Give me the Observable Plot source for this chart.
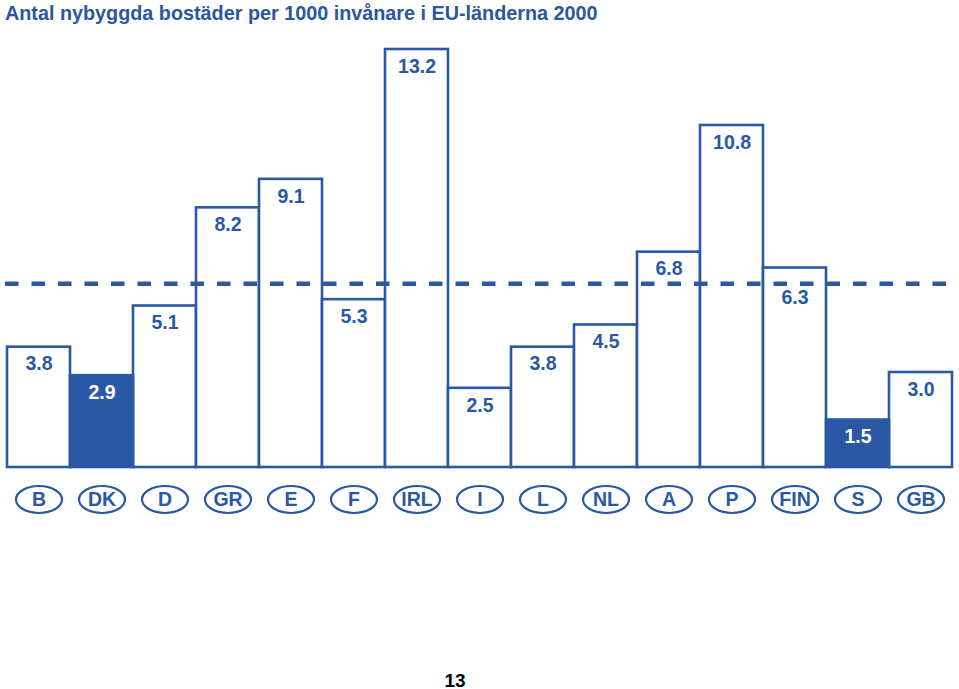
<!DOCTYPE html>
<html>
<head>
<meta charset="utf-8">
<script src="https://cdn.jsdelivr.net/npm/d3@7"></script>
<script src="https://cdn.jsdelivr.net/npm/@observablehq/plot@0.6"></script>
<style>
  html, body { margin: 0; padding: 0; background: #fff; }
  #page { position: relative; width: 959px; height: 689px; overflow: hidden; font-family: "Liberation Sans", Arial, sans-serif; }
  #title { position: absolute; left: 5px; top: 3px; font-size: 19.8px; line-height: 20px; font-weight: bold; color: #2B56A0; white-space: nowrap; }
  #chart { position: absolute; left: 0; top: 31px; }
  #pagenum { position: absolute; left: 0; width: 910px; top: 671px; text-align: center; font-size: 19px; line-height: 19px; font-weight: bold; color: #000; }
</style>
</head>
<body>
<div id="page">
  <div id="title"></div>
  <div id="chart"></div>
  <div id="pagenum"></div>
</div>
<script>
const title = "Antal nybyggda bostäder per 1000 invånare i EU-länderna 2000";
const countries = ["B","DK","D","GR","E","F","IRL","I","L","NL","A","P","FIN","S","GB"];
const values = [3.8, 2.9, 5.1, 8.2, 9.1, 5.3, 13.2, 2.5, 3.8, 4.5, 6.8, 10.8, 6.3, 1.5, 3.0];
const highlighted = ["DK", "S"];
const euAverage = 5.8;
const pageNumber = "13";

const blue = "#2B58A5";
const data = countries.map((c, i) => ({country: c, value: values[i], hi: highlighted.includes(c)}));

document.getElementById("title").textContent = title;
document.getElementById("pagenum").textContent = pageNumber;

// elliptical badge symbol
const ellipse = {
  draw(ctx) {
    const rx = 23, ry = 13.5, k = 0.5523;
    ctx.moveTo(rx, 0);
    ctx.bezierCurveTo(rx, k * ry, k * rx, ry, 0, ry);
    ctx.bezierCurveTo(-k * rx, ry, -rx, k * ry, -rx, 0);
    ctx.bezierCurveTo(-rx, -k * ry, -k * rx, -ry, 0, -ry);
    ctx.bezierCurveTo(k * rx, -ry, rx, -k * ry, rx, 0);
    ctx.closePath();
  }
};

const fmt = d3.format(".1f");
// a label that would sit on the average line is pushed further down
const collides = d => Math.abs((d.value - 0.5) - euAverage) < 0.35;

const chart = Plot.plot({
  width: 959,
  height: 630,
  marginTop: 19,
  marginBottom: 193,
  marginLeft: 5,
  marginRight: 5,
  x: {domain: countries, range: [5, 954], padding: 0, axis: null},
  y: {domain: [0, 13.2], range: [436, 18], axis: null},
  style: {fontFamily: "'Liberation Sans', Arial, sans-serif", background: "white"},
  marks: [
    Plot.barY(data.filter(d => !d.hi), {x: "country", y: "value", fill: "white", stroke: blue, strokeWidth: 2.6, inset: 0}),
    Plot.barY(data.filter(d => d.hi), {x: "country", y: "value", fill: blue, stroke: blue, strokeWidth: 2.6, inset: 0}),
    Plot.ruleY([euAverage], {stroke: blue, strokeWidth: 4.5, strokeDasharray: "13.5,13"}),
    Plot.text(data.filter(d => !collides(d)), {x: "country", y: "value", text: d => fmt(d.value), dy: 17,
      fill: d => d.hi ? "white" : blue, fontSize: 19.5, fontWeight: "bold"}),
    Plot.text(data.filter(d => collides(d)), {x: "country", y: "value", text: d => fmt(d.value), dy: 30,
      fill: d => d.hi ? "white" : blue, fontSize: 19.5, fontWeight: "bold"}),
    Plot.dot(data, {x: "country", y: () => 0, dy: 32, symbol: ellipse, r: 5, fill: "white", stroke: blue, strokeWidth: 2.2}),
    Plot.text(data, {x: "country", y: () => 0, dy: 32, text: "country", fill: blue, fontSize: 19.5, fontWeight: "bold"})
  ]
});
document.getElementById("chart").appendChild(chart);
</script>
</body>
</html>
